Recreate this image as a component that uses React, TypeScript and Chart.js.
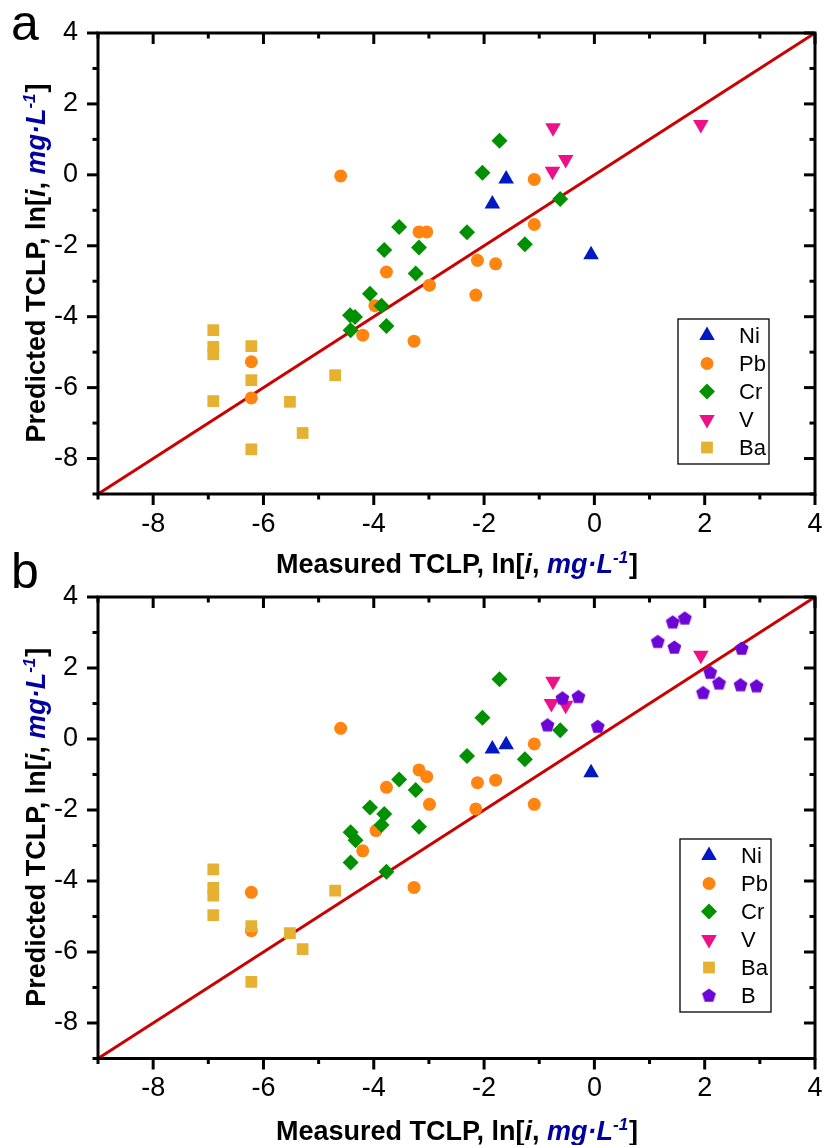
import React, { useEffect, useRef } from 'react';
import { Chart, registerables } from 'chart.js';
import { drawPoint } from 'chart.js/helpers';

Chart.register(...registerables);

type Pt = [number, number];

// ---------------- DATA ----------------
const majorTicks = [-8, -6, -4, -2, 0, 2, 4];
const allTicks = [-9, -8, -7, -6, -5, -4, -3, -2, -1, 0, 1, 2, 3, 4];
const identityLine: Pt[] = [[-9, -9], [4, 4]];

// Panel a
const niA: Pt[] = [[-1.60, -0.12], [-1.85, -0.82], [-0.06, -2.25]];
const pbA: Pt[] = [[-4.60, -0.03], [-1.09, -0.13], [-3.18, -1.61], [-3.04, -1.61], [-1.09, -1.40], [-2.12, -2.41], [-1.79, -2.51], [-3.77, -2.74], [-2.99, -3.11], [-2.15, -3.39], [-3.98, -3.69], [-4.20, -4.52], [-3.27, -4.69], [-6.22, -5.27], [-6.22, -6.29]];
const crA: Pt[] = [[-1.72, 0.96], [-2.03, 0.06], [-0.62, -0.68], [-3.54, -1.47], [-2.31, -1.62], [-3.81, -2.12], [-3.18, -2.05], [-1.26, -1.96], [-3.24, -2.78], [-4.07, -3.35], [-3.86, -3.69], [-4.43, -3.96], [-4.34, -4.01], [-4.42, -4.38], [-3.77, -4.26]];
const vA: Pt[] = [[-0.75, 1.33], [-0.76, 0.10], [-0.52, 0.43], [1.93, 1.42]];
const baA: Pt[] = [[-6.91, -4.38], [-6.91, -4.85], [-6.91, -5.06], [-6.91, -6.38], [-6.22, -4.83], [-6.22, -5.79], [-6.22, -7.74], [-5.52, -6.40], [-5.29, -7.28], [-4.70, -5.65]];

// Panel b
const niB: Pt[] = [[-1.60, -0.16], [-1.85, -0.28], [-0.06, -0.95]];
const pbB: Pt[] = [[-4.60, 0.30], [-1.09, -0.14], [-3.18, -0.87], [-3.04, -1.06], [-3.77, -1.36], [-2.12, -1.23], [-1.79, -1.16], [-2.99, -1.84], [-2.15, -1.97], [-1.09, -1.84], [-3.96, -2.58], [-4.20, -3.15], [-3.27, -4.18], [-6.22, -4.32], [-6.22, -5.40]];
const crB: Pt[] = [[-1.72, 1.68], [-2.03, 0.60], [-0.62, 0.25], [-2.31, -0.48], [-1.26, -0.57], [-3.54, -1.14], [-3.24, -1.44], [-4.07, -1.93], [-3.81, -2.11], [-3.86, -2.42], [-3.18, -2.47], [-4.42, -2.63], [-4.33, -2.85], [-4.42, -3.48], [-3.77, -3.74]];
const vB: Pt[] = [[-0.75, 1.63], [-0.78, 1.00], [-0.52, 0.95], [1.93, 2.36]];
const baB: Pt[] = [[-6.91, -3.67], [-6.91, -4.19], [-6.91, -4.41], [-6.91, -4.96], [-6.22, -5.27], [-6.22, -6.84], [-5.52, -5.47], [-5.29, -5.92], [-4.70, -4.27]];
const bB: Pt[] = [[1.42, 3.29], [1.64, 3.40], [1.15, 2.74], [1.45, 2.58], [2.67, 2.55], [2.10, 1.87], [2.26, 1.57], [2.65, 1.52], [2.94, 1.49], [1.97, 1.30], [-0.58, 1.15], [-0.29, 1.19], [-0.85, 0.39], [0.06, 0.35]];

// ---------------- STYLE ----------------
const FONT = "'Liberation Sans', Arial, Helvetica, sans-serif";
const LINE_COLOR = '#cc0000';
const TITLE_BLUE = '#0000a0';
const COLORS: Record<string, string> = {
  Ni: '#0019c0',
  Pb: '#ff8410',
  Cr: '#009000',
  V: '#ee1089',
  Ba: '#e6b030',
  B: '#6d05d6',
};

function makePentagon(color: string, R: number) {
  const c = document.createElement('canvas');
  const s = Math.ceil(2 * R + 2);
  c.width = s;
  c.height = s;
  const ctx = c.getContext('2d')!;
  ctx.fillStyle = color;
  ctx.beginPath();
  const cx = s / 2;
  const cy = s / 2 + R * 0.05;
  for (let i = 0; i < 5; i++) {
    const a = -Math.PI / 2 + (i * 2 * Math.PI) / 5;
    const px = cx + R * Math.cos(a);
    const py = cy + R * Math.sin(a);
    if (i === 0) ctx.moveTo(px, py);
    else ctx.lineTo(px, py);
  }
  ctx.closePath();
  ctx.fill();
  return c;
}

function markerFor(name: string): { style: any; radius: number; rotation: number } {
  switch (name) {
    case 'Ni':
      return { style: 'triangle', radius: 9, rotation: 0 };
    case 'Pb':
      return { style: 'circle', radius: 6.5, rotation: 0 };
    case 'Cr':
      return { style: 'rectRot', radius: 8, rotation: 0 };
    case 'V':
      return { style: 'triangle', radius: 9, rotation: 180 };
    case 'Ba':
      return { style: 'rect', radius: 8.3, rotation: 0 };
    default:
      return { style: makePentagon(COLORS.B, 7.3), radius: 7, rotation: 0 };
  }
}

type Seg = { t: string; italic?: boolean; color: string; sup?: boolean };
function titleSegs(first: string): Seg[] {
  return [
    { t: first + ' TCLP, ln[', color: '#000' },
    { t: 'i', italic: true, color: '#000' },
    { t: ', ', color: '#000' },
    { t: 'mg\u00B7L', italic: true, color: TITLE_BLUE },
    { t: '-1', italic: true, color: TITLE_BLUE, sup: true },
    { t: ']', color: '#000' },
  ];
}

const TITLE_SIZE = 27;
const SUP_SIZE = 17;
function segFont(s: Seg) {
  const size = s.sup ? SUP_SIZE : TITLE_SIZE;
  return `${s.italic ? 'italic ' : ''}bold ${size}px ${FONT}`;
}
function drawRich(ctx: CanvasRenderingContext2D, segs: Seg[]) {
  // draws centered at (0, 0) baseline
  let total = 0;
  const widths = segs.map((s) => {
    ctx.font = segFont(s);
    const w = ctx.measureText(s.t).width;
    total += w;
    return w;
  });
  let x = -total / 2;
  ctx.textAlign = 'left';
  ctx.textBaseline = 'alphabetic';
  segs.forEach((s, i) => {
    ctx.font = segFont(s);
    ctx.fillStyle = s.color;
    ctx.fillText(s.t, x, s.sup ? -10 : 0);
    x += widths[i] + (s.sup ? 1 : 0);
  });
}

type Series = { name: string; data: Pt[] };
type Panel = {
  letter: string;
  letterBaseline: number;
  canvasHeight: number;
  plotTop: number;
  plotBottom: number;
  xTitleBaseline: number;
  legendRight: number;
  legendBottom: number;
  series: Series[];
};

const panelA: Panel = {
  letter: 'a',
  letterBaseline: 40,
  canvasHeight: 580,
  plotTop: 33,
  plotBottom: 494,
  xTitleBaseline: 573,
  legendRight: 46,
  legendBottom: 30,
  series: [
    { name: 'Ni', data: niA },
    { name: 'Pb', data: pbA },
    { name: 'Cr', data: crA },
    { name: 'V', data: vA },
    { name: 'Ba', data: baA },
  ],
};

const panelB: Panel = {
  letter: 'b',
  letterBaseline: 48,
  canvasHeight: 605,
  plotTop: 57,
  plotBottom: 518.5,
  xTitleBaseline: 600,
  legendRight: 44,
  legendBottom: 46.5,
  series: [
    { name: 'Ni', data: niB },
    { name: 'Pb', data: pbB },
    { name: 'Cr', data: crB },
    { name: 'V', data: vB },
    { name: 'Ba', data: baB },
    { name: 'B', data: bB },
  ],
};

function decoPlugin(p: Panel) {
  return {
    id: 'deco',
    afterDraw(chart: any) {
      const ctx: CanvasRenderingContext2D = chart.ctx;
      const { left, right, top, bottom } = chart.chartArea;
      const xs = chart.scales.x;
      const ys = chart.scales.y;
      ctx.save();
      ctx.strokeStyle = '#000';
      ctx.lineWidth = 3;
      ctx.lineCap = 'butt';
      const seg = (x1: number, y1: number, x2: number, y2: number) => {
        ctx.beginPath();
        ctx.moveTo(x1, y1);
        ctx.lineTo(x2, y2);
        ctx.stroke();
      };
      allTicks.forEach((v) => {
        const major = majorTicks.includes(v);
        const len = major ? 11 : 5.5;
        const px = xs.getPixelForValue(v);
        const py = ys.getPixelForValue(v);
        seg(px, bottom, px, bottom + len);
        seg(px, top, px, top + len);
        seg(left - len, py, left, py);
        seg(right - len, py, right, py);
      });
      ctx.strokeRect(left, top, right - left, bottom - top);

      // legend
      const n = p.series.length;
      const w = 91;
      const h = n * 28 + 5;
      const bx = right - p.legendRight - w;
      const by = bottom - p.legendBottom - h;
      ctx.fillStyle = '#fff';
      ctx.fillRect(bx, by, w, h);
      ctx.lineWidth = 1.3;
      ctx.strokeStyle = '#000';
      ctx.strokeRect(bx, by, w, h);
      p.series.forEach((s, i) => {
        const cy = by + 16.5 + 28 * i;
        const m = markerFor(s.name);
        ctx.fillStyle = COLORS[s.name];
        ctx.strokeStyle = COLORS[s.name];
        drawPoint(ctx, { pointStyle: m.style, radius: m.radius, rotation: m.rotation, borderWidth: 0 } as any, bx + 29, cy);
        ctx.fillStyle = '#000';
        ctx.font = `22px ${FONT}`;
        ctx.textAlign = 'left';
        ctx.textBaseline = 'middle';
        ctx.fillText(s.name, bx + 61, cy + 1);
      });

      // panel letter
      ctx.fillStyle = '#000';
      ctx.font = `50px ${FONT}`;
      ctx.textAlign = 'left';
      ctx.textBaseline = 'alphabetic';
      ctx.fillText(p.letter, 11, p.letterBaseline);

      // x title
      ctx.save();
      ctx.translate((left + right) / 2, p.xTitleBaseline);
      drawRich(ctx, titleSegs('Measured'));
      ctx.restore();

      // y title
      ctx.save();
      ctx.translate(44.5, (top + bottom) / 2);
      ctx.rotate(-Math.PI / 2);
      drawRich(ctx, titleSegs('Predicted'));
      ctx.restore();

      ctx.restore();
    },
  };
}

function makeChart(canvas: HTMLCanvasElement, p: Panel) {
  const n = p.series.length;
  const datasets: any[] = [
    {
      type: 'line',
      label: 'y = x',
      data: identityLine.map(([x, y]) => ({ x, y })),
      borderColor: LINE_COLOR,
      borderWidth: 3,
      pointRadius: 0,
      fill: false,
      order: 20,
    },
    ...p.series.map((s, i) => {
      const m = markerFor(s.name);
      const c = COLORS[s.name];
      return {
        type: 'scatter',
        label: s.name,
        data: s.data.map(([x, y]) => ({ x, y })),
        pointStyle: m.style,
        pointRadius: m.radius,
        pointHoverRadius: m.radius,
        pointRotation: m.rotation,
        pointBackgroundColor: c,
        pointBorderColor: c,
        pointBorderWidth: 0,
        backgroundColor: c,
        borderColor: c,
        order: n - i,
      };
    }),
  ];

  const tickFont = { family: FONT, size: 27 };
  return new Chart(canvas, {
    type: 'scatter',
    data: { datasets },
    options: {
      responsive: false,
      animation: false,
      devicePixelRatio: 1,
      events: [],
      layout: { padding: { left: 0, right: 824 - 815, top: p.plotTop, bottom: 0 } },
      plugins: {
        legend: { display: false },
        tooltip: { enabled: false },
      },
      scales: {
        x: {
          type: 'linear',
          min: -9,
          max: 4,
          afterBuildTicks: (s: any) => {
            s.ticks = majorTicks.map((v) => ({ value: v }));
          },
          afterFit: (s: any) => {
            s.height = p.canvasHeight - p.plotBottom;
            s.paddingLeft = 0;
            s.paddingRight = 0;
          },
          ticks: {
            font: tickFont,
            color: '#000',
            padding: 14,
            maxRotation: 0,
            autoSkip: false,
            callback: (v: any) => String(v),
          },
          grid: { display: false, drawTicks: false },
          border: { display: false },
        },
        y: {
          type: 'linear',
          min: -9,
          max: 4,
          afterBuildTicks: (s: any) => {
            s.ticks = majorTicks.map((v) => ({ value: v }));
          },
          afterFit: (s: any) => {
            s.width = 98;
            s.paddingTop = 0;
            s.paddingBottom = 0;
          },
          ticks: {
            font: tickFont,
            color: '#000',
            padding: 20,
            autoSkip: false,
            callback: (v: any) => String(v),
          },
          grid: { display: false, drawTicks: false },
          border: { display: false },
        },
      },
    } as any,
    plugins: [decoPlugin(p)],
  });
}

export default function App() {
  const refA = useRef<HTMLCanvasElement>(null);
  const refB = useRef<HTMLCanvasElement>(null);
  useEffect(() => {
    const charts = [makeChart(refA.current!, panelA), makeChart(refB.current!, panelB)];
    return () => charts.forEach((c) => c.destroy());
  }, []);
  return (
    <div style={{ position: 'absolute', left: 0, top: 0, width: 824, height: 1145, background: '#fff' }}>
      <canvas
        ref={refA}
        width={824}
        height={580}
        style={{ position: 'absolute', left: 0, top: 0, width: 824, height: 580 }}
      />
      <canvas
        ref={refB}
        width={824}
        height={605}
        style={{ position: 'absolute', left: 0, top: 540, width: 824, height: 605 }}
      />
    </div>
  );
}
